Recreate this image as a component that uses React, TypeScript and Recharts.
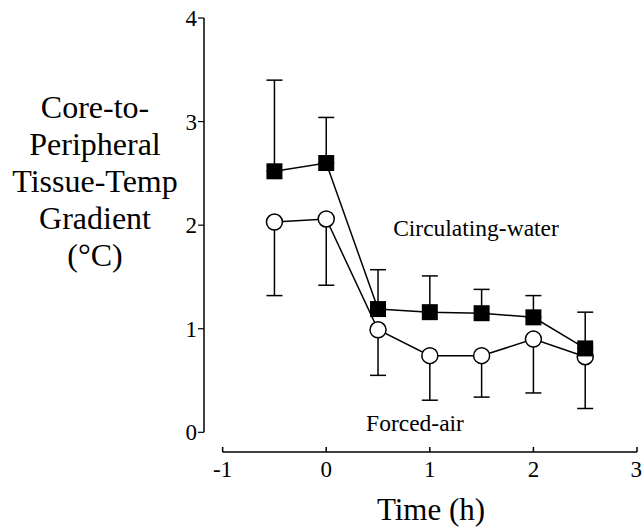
import * as React from "react";
import { ComposedChart, Line, ErrorBar, XAxis, YAxis, ReferenceLine } from "recharts";

const hours = [-0.5, 0, 0.5, 1, 1.5, 2, 2.5];
const circulatingWater = [2.52, 2.6, 1.19, 1.16, 1.15, 1.11, 0.81];
const circulatingWaterUpper = [3.4, 3.04, 1.57, 1.51, 1.38, 1.32, 1.16];
const forcedAir = [2.03, 2.06, 0.99, 0.74, 0.74, 0.9, 0.73];
const forcedAirLower = [1.32, 1.42, 0.55, 0.31, 0.34, 0.38, 0.23];

const xTicks = [-1, 0, 1, 2, 3];
const yTicks = [0, 1, 2, 3, 4];
const yLabelLines = ["Core-to-", "Peripheral", "Tissue-Temp", "Gradient", "(°C)"];

// axes are offset from the plot: room to the left of x=-1 and below y=0
const X_MIN = -1.18;
const Y_MIN = -0.19;

const serif = "'Liberation Serif', 'Times New Roman', serif";

const data = hours.map((h, i) => ({
  h,
  cw: circulatingWater[i],
  cwErr: [0, +(circulatingWaterUpper[i] - circulatingWater[i]).toFixed(2)],
  fa: forcedAir[i],
  faErr: [+(forcedAir[i] - forcedAirLower[i]).toFixed(2), 0],
}));

function SquareDot(props: any) {
  const { cx, cy, index } = props;
  if (cx == null || cy == null) return null;
  return <rect key={`sq-${index}`} x={cx - 8} y={cy - 8} width={16} height={16} fill="#000" />;
}

const textStyle: React.CSSProperties = {
  position: "absolute",
  fontFamily: serif,
  color: "#000",
  whiteSpace: "nowrap",
  lineHeight: 1,
};

export default function App() {
  return (
    <div style={{ position: "absolute", left: 0, top: 0, width: 642, height: 527, background: "#fff", overflow: "hidden" }}>
      <ComposedChart
        width={642}
        height={527}
        data={data}
        margin={{ top: 18, right: 5, left: 144, bottom: 0 }}
      >
        <XAxis
          type="number"
          dataKey="h"
          domain={[X_MIN, 3]}
          ticks={xTicks}
          allowDataOverflow
          axisLine={false}
          tickLine={{ stroke: "#000", strokeWidth: 1.5 }}
          tickSize={-5}
          tickMargin={14}
          height={75}
          tick={{ fill: "#000", fontSize: 23, fontFamily: serif }}
        />
        <YAxis
          type="number"
          domain={[Y_MIN, 4]}
          ticks={yTicks}
          allowDataOverflow
          axisLine={false}
          tickLine={{ stroke: "#000", strokeWidth: 1.2 }}
          tickSize={6}
          tickMargin={1}
          width={60}
          tick={{ fill: "#000", fontSize: 23, fontFamily: serif }}
        />
        <ReferenceLine
          segment={[{ x: X_MIN, y: 0 }, { x: X_MIN, y: 4 }]}
          stroke="#000"
          strokeWidth={1.5}
          ifOverflow="visible"
        />
        <ReferenceLine
          segment={[{ x: -1, y: Y_MIN }, { x: 3, y: Y_MIN }]}
          stroke="#000"
          strokeWidth={1.5}
          ifOverflow="visible"
        />
        <Line
          dataKey="fa"
          stroke="#000"
          strokeWidth={1.5}
          dot={{ r: 8, fill: "#fff", stroke: "#000", strokeWidth: 1.5 }}
          activeDot={false}
          isAnimationActive={false}
        >
          <ErrorBar dataKey="faErr" direction="y" width={8} stroke="#000" strokeWidth={1.5} isAnimationActive={false} />
        </Line>
        <Line
          dataKey="cw"
          stroke="#000"
          strokeWidth={1.5}
          dot={SquareDot}
          activeDot={false}
          isAnimationActive={false}
        >
          <ErrorBar dataKey="cwErr" direction="y" width={8} stroke="#000" strokeWidth={1.5} isAnimationActive={false} />
        </Line>
      </ComposedChart>

      <div
        style={{
          ...textStyle,
          left: 95,
          top: 89,
          transform: "translateX(-50%)",
          fontSize: 32,
          lineHeight: "37px",
          textAlign: "center",
        }}
      >
        {yLabelLines.map((line) => (
          <div key={line}>{line}</div>
        ))}
      </div>
      <div style={{ ...textStyle, left: 476, top: 217, transform: "translateX(-50%)", fontSize: 23.5 }}>
        Circulating-water
      </div>
      <div style={{ ...textStyle, left: 415, top: 412, transform: "translateX(-50%)", fontSize: 23.5 }}>
        Forced-air
      </div>
      <div style={{ ...textStyle, left: 431, top: 494, transform: "translateX(-50%)", fontSize: 31 }}>
        Time (h)
      </div>
    </div>
  );
}
